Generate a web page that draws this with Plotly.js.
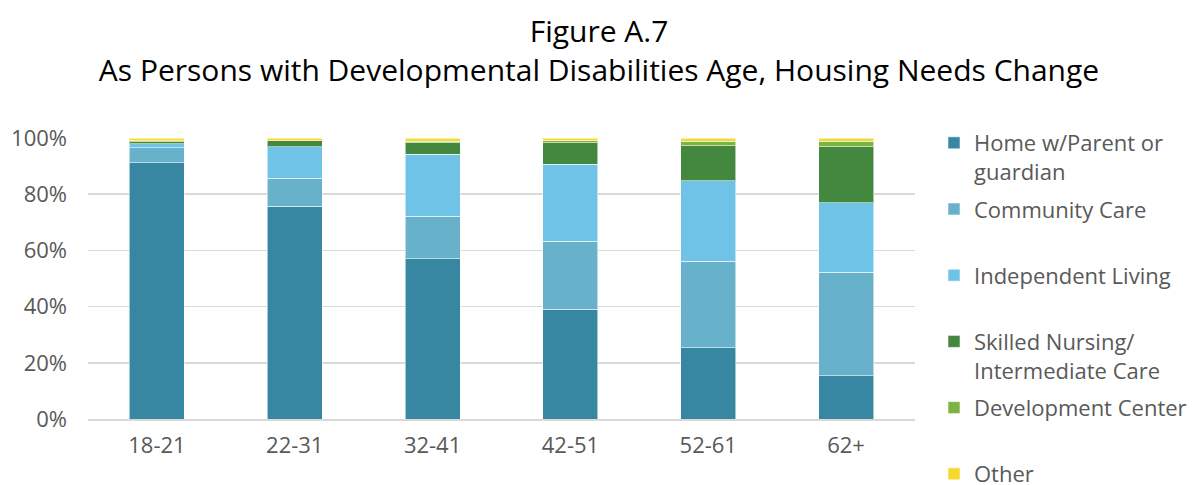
<!DOCTYPE html>
<html>
<head>
<meta charset="utf-8">
<script src="https://cdn.plot.ly/plotly-3.0.1.min.js"></script>
<style>html,body{margin:0;padding:0;background:#fff;}#chart{width:1198px;height:485px;}</style>
</head>
<body>
<div id="chart"></div>
<script>
var ageGroups = ["18-21", "22-31", "32-41", "42-51", "52-61", "62+"];
var seriesNames = ["Home w/Parent or<br>guardian", "Community Care<br>&nbsp;", "Independent Living<br>&nbsp;", "Skilled Nursing/<br>Intermediate Care", "Development Center<br>&nbsp;", "Other"];
var homeParent = [91.2, 75.8, 57.1, 39.0, 25.3, 15.4];
var communityCare = [5.3, 9.9, 15.0, 24.2, 30.8, 36.8];
var independentLiving = [1.4, 11.2, 22.1, 27.5, 28.7, 24.8];
var skilledNursing = [0.7, 2.1, 4.1, 7.6, 12.5, 19.9];
var developmentCenter = [0.4, 0.1, 0.6, 0.7, 1.6, 2.0];
var other = [1.0, 0.9, 1.1, 1.0, 1.1, 1.1];
var colors = ["#3787A3", "#67B1CA", "#6FC3E6", "#44873F", "#7CB342", "#F5D92E"];

var allSeries = [homeParent, communityCare, independentLiving, skilledNursing, developmentCenter, other];
var traces = allSeries.map(function (vals, i) {
  return {
    type: "bar",
    name: seriesNames[i],
    x: ageGroups,
    y: vals.map(function (v) { return v / 100; }),
    legendgroup: "g" + i,
    marker: { color: colors[i], line: { color: "rgba(255,255,255,0.55)", width: 1 } },
    hoverinfo: "x+y+name"
  };
});

var H = 485;
var fontFam = "'Open Sans', Lato, sans-serif";
var layout = {
  width: 1198,
  height: H,
  barmode: "stack",
  bargap: 0.6,
  paper_bgcolor: "#ffffff",
  plot_bgcolor: "#ffffff",
  font: { family: fontFam, color: "#595959", size: 22 },
  title: {
    text: "Figure A.7<br>As Persons with Developmental Disabilities Age, Housing Needs Change",
    font: { family: fontFam, size: 30, color: "#000000" },
    x: 0.5, xanchor: "center", xref: "container",
    y: 0.913, yanchor: "top", yref: "container"
  },
  margin: { l: 88, r: 283, t: 0, b: 0, pad: 0, autoexpand: false },
  xaxis: {
    type: "category",
    showgrid: false,
    showline: true,
    linecolor: "#D9D9D9",
    linewidth: 1.5,
    ticks: "",
    tickfont: { size: 22, color: "#595959" },
    ticklabelstandoff: 6
  },
  yaxis: {
    domain: [(H - 419) / H, (H - 138) / H],
    range: [0, 1],
    tickvals: [0, 0.2, 0.4, 0.6, 0.8, 1],
    tickformat: ".0%",
    showgrid: true,
    gridcolor: "#D9D9D9",
    gridwidth: 1.5,
    zeroline: false,
    showline: false,
    ticks: "",
    tickfont: { size: 22, color: "#595959" },
    ticklabelstandoff: 20
  },
  showlegend: true,
  legend: {
    xref: "paper", yref: "paper",
    x: (934 - 88) / (1198 - 88 - 283), xanchor: "left",
    y: 1 - 122 / H, yanchor: "top",
    valign: "top",
    traceorder: "grouped",
    tracegroupgap: 6,
    font: { size: 22, color: "#595959" },
    bgcolor: "rgba(0,0,0,0)"
  }
};

Plotly.newPlot("chart", traces, layout, { displayModeBar: false, staticPlot: true });
</script>
</body>
</html>
